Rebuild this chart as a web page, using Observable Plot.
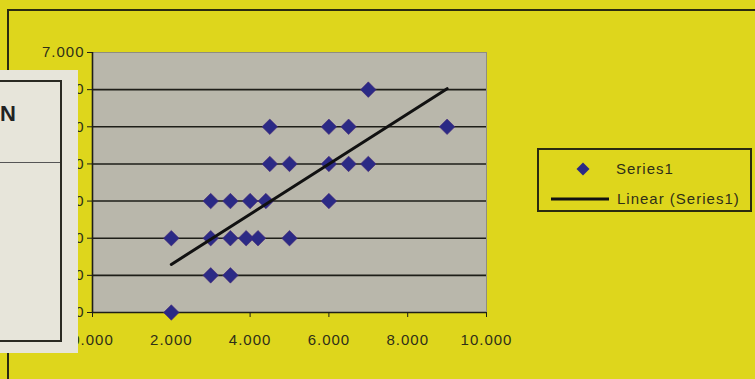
<!DOCTYPE html>
<html>
<head>
<meta charset="utf-8">
<script src="https://cdn.jsdelivr.net/npm/d3@7"></script>
<script src="https://cdn.jsdelivr.net/npm/@observablehq/plot@0.6"></script>
<style>
  html, body { margin: 0; padding: 0; background: #ded61c; }
  #wrap { position: relative; width: 755px; height: 379px; overflow: hidden; background: #ded61c; font-family: "Liberation Sans", Arial, sans-serif; }
  #outer { position: absolute; left: 7px; top: 9px; width: 800px; height: 420px; border: 2px solid #2a2a10; box-sizing: border-box; }
  #paper { position: absolute; left: -4px; top: 70px; width: 82px; height: 283px; background: #e7e5da; }
  #paperBox { position: absolute; left: -10px; top: 10px; width: 76px; height: 262px; border: 2px solid #2a2a22; box-sizing: border-box; }
  #paperRule { position: absolute; left: 0; top: 92px; width: 64px; height: 1px; background: #555; }
  #paperN { position: absolute; left: 4px; top: 31px; font: bold 22px "Liberation Sans", Arial, sans-serif; color: #222; }
  #legend { position: absolute; left: 537px; top: 148px; width: 215px; height: 64px; border: 2px solid #2a2a10; box-sizing: border-box; font-size: 15px; letter-spacing: 1px; color: #2f2f18; }
  .lrow { position: absolute; left: 0; height: 18px; line-height: 18px; }
  svg { position: absolute; left: 0; top: 0; }
</style>
</head>
<body>
<div id="wrap">
  <div id="outer"></div>
  <div id="chart"></div>
  <div id="paper"><div id="paperBox"></div><div id="paperRule"></div><div id="paperN">N</div></div>
  <div id="legend">
    <div class="lrow" style="top:10px;"><svg width="50" height="18" style="position:absolute;left:34px;top:0"><path d="M10,2.5 L16.5,9 L10,15.5 L3.5,9 Z" fill="#2b2a85"/></svg><span style="position:absolute;left:77px;">Series1</span></div>
    <div class="lrow" style="top:40px;"><svg width="70" height="18" style="position:absolute;left:12px;top:0"><line x1="0" y1="9" x2="58" y2="9" stroke="#111" stroke-width="3"/></svg><span style="position:absolute;left:78px;white-space:nowrap;">Linear (Series1)</span></div>
  </div>
</div>
<script>
const xValues = [7, 4.5, 6, 6.5, 9, 4.5, 5, 6, 6.5, 7, 3, 3.5, 4, 4.4, 6, 2, 3, 3.5, 3.9, 4.2, 5, 3, 3.5, 2];
const yValues = [6, 5, 5, 5, 5, 4, 4, 4, 4, 4, 3, 3, 3, 3, 3, 2, 2, 2, 2, 2, 2, 1, 1, 0];
const xTicks = [0, 2, 4, 6, 8, 10];
const yTicks = [0, 1, 2, 3, 4, 5, 6, 7];

const data = xValues.map((x, i) => ({x, y: yValues[i]}));
const fmt = d3.format(".3f");

const plot = Plot.plot({
  width: 755,
  height: 379,
  marginLeft: 92,
  marginRight: 269,
  marginTop: 52,
  marginBottom: 67,
  style: { background: "transparent", fontFamily: "Liberation Sans, Arial, sans-serif", fontSize: "15px", letterSpacing: "1px", color: "#2f2f18" },
  x: { domain: [0, 10], ticks: xTicks, tickFormat: fmt, label: null },
  y: { domain: [0, 7], ticks: yTicks, tickFormat: fmt, label: null },
  marks: [
    Plot.frame({ fill: "#b9b7ab", stroke: "#8f8d80" }),
    Plot.ruleY(yTicks.filter(d => d > 0 && d < 7), { stroke: "#1e1e18", strokeWidth: 1.6 }),
    Plot.ruleX([0], { stroke: "#1e1e18", strokeWidth: 1.6 }),
    Plot.ruleY([0], { stroke: "#1e1e18", strokeWidth: 1.6 }),
    Plot.axisX({ ticks: xTicks, tickFormat: fmt, tickSize: 5, tickPadding: 17, stroke: "#1e1e18", fill: "#2f2f18", fontSize: 15 }),
    Plot.axisY({ ticks: yTicks, tickFormat: fmt, tickSize: 5, tickPadding: 3, stroke: "#1e1e18", fill: "#2f2f18", fontSize: 15 }),
    Plot.dot(data, { x: "x", y: "y", symbol: "diamond2", r: 7, fill: "#2b2a85", stroke: "#4a2a78", strokeWidth: 0.6 }),
    Plot.linearRegressionY(data, { x: "x", y: "y", stroke: "#111", strokeWidth: 3, ci: 0 })
  ]
});
document.getElementById("chart").appendChild(plot);
</script>
</body>
</html>
